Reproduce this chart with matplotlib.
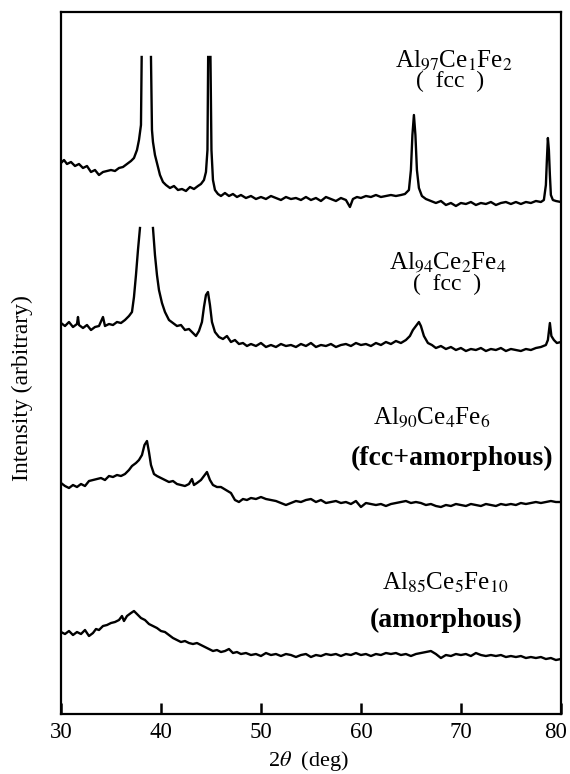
import numpy as np
import matplotlib.pyplot as plt
from matplotlib.transforms import ScaledTranslation

plt.rcParams['font.family'] = ['Liberation Serif', 'DejaVu Serif']
plt.rcParams['mathtext.fontset'] = 'stix'

nan = np.nan

# XRD patterns (2theta in deg, intensity in arbitrary units, already stacked)
# Al97Ce1Fe2 - main peaks run off the top of the chart (gap = nan)
al97 = [(30.0, 551), (30.3, 554), (30.6, 550), (31.0, 552), (31.4, 548), (31.8, 550),
        (32.2, 546), (32.6, 548), (33.0, 542), (33.4, 544), (33.8, 539), (34.2, 542),
        (34.6, 543), (35.0, 544), (35.4, 543), (35.8, 546), (36.2, 547), (36.6, 550),
        (37.0, 553), (37.3, 556), (37.6, 564), (37.8, 574), (38.0, 589), (38.07, 657),
        (38.5, nan), (39.0, 657), (39.1, 584), (39.2, 572), (39.4, 559), (39.6, 551),
        (39.9, 539), (40.2, 532), (40.5, 529), (40.9, 526), (41.3, 528), (41.7, 524),
        (42.1, 525), (42.5, 523), (42.9, 527), (43.3, 525), (43.7, 528), (44.0, 530),
        (44.3, 534), (44.5, 542), (44.65, 564), (44.72, 657), (44.85, nan), (44.95, 657),
        (45.05, 564), (45.2, 534), (45.4, 524), (45.7, 520), (46.0, 518), (46.4, 521),
        (46.8, 518), (47.2, 520), (47.6, 517), (48.0, 519), (48.5, 516), (49.0, 518),
        (49.5, 515), (50.0, 517), (50.5, 515), (51.0, 518), (51.5, 516), (52.0, 514),
        (52.5, 517), (53.0, 515), (53.5, 516), (54.0, 514), (54.5, 517), (55.0, 514),
        (55.5, 516), (56.0, 513), (56.5, 517), (57.0, 515), (57.5, 513), (58.0, 516),
        (58.5, 514), (58.9, 507), (59.2, 515), (59.6, 517), (60.0, 516), (60.5, 518),
        (61.0, 517), (61.5, 519), (62.0, 517), (62.5, 518), (63.0, 519), (63.5, 518),
        (64.0, 519), (64.4, 520), (64.8, 524), (65.0, 544), (65.15, 579), (65.3, 599),
        (65.45, 579), (65.6, 544), (65.8, 526), (66.1, 518), (66.5, 515), (67.0, 513),
        (67.5, 511), (68.0, 513), (68.5, 509), (69.0, 511), (69.5, 508), (70.0, 511),
        (70.5, 510), (71.0, 512), (71.5, 509), (72.0, 511), (72.5, 510), (73.0, 512),
        (73.5, 509), (74.0, 511), (74.5, 512), (75.0, 510), (75.5, 512), (76.0, 510),
        (76.5, 512), (77.0, 511), (77.5, 513), (78.0, 512), (78.3, 514), (78.5, 529),
        (78.6, 554), (78.7, 576), (78.8, 564), (78.9, 539), (79.0, 519), (79.2, 514),
        (79.5, 513), (80.0, 512)]

al94 = [(30.0, 391), (30.4, 388), (30.8, 392), (31.2, 387), (31.6, 390), (31.7, 397),
        (31.8, 389), (32.2, 386), (32.6, 389), (33.0, 384), (33.4, 387), (33.8, 388),
        (34.2, 397), (34.4, 388), (34.8, 390), (35.2, 389), (35.6, 392), (36.0, 391),
        (36.4, 394), (36.8, 398), (37.1, 402), (37.3, 417), (37.5, 439), (37.7, 464),
        (37.9, 486), (38.5, nan), (39.2, 486), (39.4, 459), (39.6, 439), (39.8, 424),
        (40.1, 411), (40.4, 402), (40.8, 394), (41.2, 391), (41.6, 388), (42.0, 389),
        (42.4, 384), (42.8, 385), (43.2, 381), (43.5, 378), (43.8, 383), (44.1, 392),
        (44.3, 407), (44.5, 419), (44.7, 422), (44.9, 409), (45.1, 392), (45.4, 382),
        (45.8, 377), (46.2, 375), (46.6, 378), (47.0, 372), (47.4, 374), (47.8, 370),
        (48.2, 371), (48.6, 368), (49.0, 370), (49.5, 368), (50.0, 371), (50.5, 367),
        (51.0, 369), (51.5, 367), (52.0, 370), (52.5, 368), (53.0, 369), (53.5, 367),
        (54.0, 370), (54.5, 368), (55.0, 371), (55.5, 367), (56.0, 369), (56.5, 368),
        (57.0, 370), (57.5, 367), (58.0, 369), (58.5, 370), (59.0, 368), (59.5, 371),
        (60.0, 369), (60.5, 370), (61.0, 368), (61.5, 371), (62.0, 369), (62.5, 372),
        (63.0, 370), (63.5, 373), (64.0, 371), (64.5, 374), (64.9, 378), (65.2, 384),
        (65.5, 388), (65.8, 392), (66.0, 388), (66.3, 378), (66.7, 371), (67.1, 369),
        (67.5, 366), (68.0, 368), (68.5, 365), (69.0, 367), (69.5, 364), (70.0, 366),
        (70.5, 363), (71.0, 365), (71.5, 364), (72.0, 366), (72.5, 363), (73.0, 365),
        (73.5, 364), (74.0, 366), (74.5, 363), (75.0, 365), (75.5, 364), (76.0, 363),
        (76.5, 365), (77.0, 364), (77.5, 366), (78.0, 367), (78.5, 369), (78.7, 374),
        (78.9, 391), (79.05, 378), (79.3, 374), (79.6, 371), (80.0, 372)]

al90 = [(30.0, 231), (30.4, 228), (30.8, 226), (31.2, 229), (31.6, 227), (32.0, 230),
        (32.4, 228), (32.8, 233), (33.2, 234), (33.6, 235), (34.0, 236), (34.4, 234),
        (34.8, 238), (35.2, 237), (35.6, 239), (36.0, 238), (36.4, 240), (36.8, 244),
        (37.1, 248), (37.5, 251), (37.8, 254), (38.1, 259), (38.35, 269), (38.6, 273),
        (38.8, 262), (39.0, 249), (39.3, 240), (39.6, 238), (40.0, 236), (40.4, 234),
        (40.8, 232), (41.2, 233), (41.6, 230), (42.0, 229), (42.4, 228), (42.8, 230),
        (43.1, 235), (43.3, 229), (43.6, 231), (44.0, 234), (44.3, 238), (44.6, 242),
        (44.9, 234), (45.2, 229), (45.6, 227), (46.0, 227), (46.5, 224), (47.0, 221),
        (47.4, 214), (47.8, 212), (48.2, 215), (48.6, 214), (49.0, 216), (49.5, 215),
        (50.0, 217), (50.5, 215), (51.0, 214), (51.5, 213), (52.0, 211), (52.5, 209),
        (53.0, 211), (53.5, 213), (54.0, 212), (54.5, 214), (55.0, 215), (55.5, 212),
        (56.0, 214), (56.5, 211), (57.0, 212), (57.5, 213), (58.0, 211), (58.5, 212),
        (59.0, 210), (59.5, 213), (60.0, 207), (60.5, 211), (61.0, 210), (61.5, 209),
        (62.0, 210), (62.5, 208), (63.0, 210), (63.5, 211), (64.0, 212), (64.5, 213),
        (65.0, 211), (65.5, 212), (66.0, 211), (66.5, 209), (67.0, 210), (67.5, 208),
        (68.0, 207), (68.5, 209), (69.0, 208), (69.5, 210), (70.0, 209), (70.5, 208),
        (71.0, 210), (71.5, 209), (72.0, 208), (72.5, 210), (73.0, 209), (73.5, 208),
        (74.0, 210), (74.5, 209), (75.0, 210), (75.5, 209), (76.0, 211), (76.5, 210),
        (77.0, 211), (77.5, 212), (78.0, 211), (78.5, 212), (79.0, 213), (79.5, 212),
        (80.0, 212)]

al85 = [(30.0, 82), (30.4, 80), (30.8, 83), (31.2, 79), (31.6, 82), (32.0, 80),
        (32.4, 84), (32.8, 78), (33.2, 81), (33.5, 85), (33.8, 84), (34.2, 88),
        (34.6, 89), (35.0, 91), (35.4, 92), (35.8, 94), (36.1, 98), (36.3, 93),
        (36.6, 98), (37.0, 101), (37.3, 103), (37.6, 100), (38.0, 96), (38.4, 94),
        (38.8, 90), (39.2, 88), (39.6, 86), (40.0, 83), (40.4, 82), (40.8, 79),
        (41.2, 76), (41.6, 74), (42.0, 72), (42.4, 73), (42.8, 71), (43.2, 70),
        (43.6, 71), (44.0, 69), (44.4, 67), (44.8, 65), (45.2, 63), (45.6, 64),
        (46.0, 62), (46.4, 63), (46.8, 65), (47.2, 61), (47.6, 62), (48.0, 60),
        (48.5, 61), (49.0, 59), (49.5, 60), (50.0, 58), (50.5, 61), (51.0, 59),
        (51.5, 60), (52.0, 58), (52.5, 60), (53.0, 59), (53.5, 57), (54.0, 59),
        (54.5, 60), (55.0, 57), (55.5, 59), (56.0, 58), (56.5, 60), (57.0, 59),
        (57.5, 60), (58.0, 58), (58.5, 60), (59.0, 59), (59.5, 61), (60.0, 59),
        (60.5, 60), (61.0, 58), (61.5, 60), (62.0, 59), (62.5, 61), (63.0, 60),
        (63.5, 61), (64.0, 59), (64.5, 60), (65.0, 58), (65.5, 60), (66.0, 61),
        (66.5, 62), (67.0, 63), (67.5, 60), (68.0, 56), (68.5, 59), (69.0, 58),
        (69.5, 60), (70.0, 59), (70.5, 60), (71.0, 58), (71.5, 61), (72.0, 59),
        (72.5, 58), (73.0, 59), (73.5, 58), (74.0, 59), (74.5, 57), (75.0, 58),
        (75.5, 57), (76.0, 58), (76.5, 56), (77.0, 57), (77.5, 56), (78.0, 57),
        (78.5, 55), (79.0, 56), (79.5, 54), (80.0, 55)]

patterns = [al97, al94, al90, al85]

fig = plt.figure(figsize=(5.7, 7.74), dpi=100)
ax = fig.add_axes([0.107, 0.0775, 0.877, 0.907])

for pat in patterns:
    x, y = zip(*pat)
    ax.plot(x, y, color='black', lw=1.7, solid_joinstyle='round')

ax.set_xlim(30, 80)
ax.set_ylim(0, 702)
ax.set_xticks([30, 40, 50, 60, 70, 80])
ax.set_yticks([])
ax.tick_params(axis='x', direction='in', length=8, width=1.8, labelsize=16.5, pad=6)
for s in ax.spines.values():
    s.set_linewidth(1.6)

# pull the last tick label in so it stays on the canvas
last = ax.get_xticklabels()[-1]
last.set_transform(last.get_transform() + ScaledTranslation(-5 / 100, 0, fig.dpi_scale_trans))

fs = 18
ax.text(69.3, 648, r'Al$_{97}$Ce$_{1}$Fe$_{2}$', fontsize=fs, ha='center', va='baseline')
ax.text(68.9, 633, '(  fcc  )', fontsize=fs - 1, ha='center', va='center')
ax.text(68.7, 446, r'Al$_{94}$Ce$_{2}$Fe$_{4}$', fontsize=fs, ha='center', va='baseline')
ax.text(68.6, 430, '(  fcc  )', fontsize=fs - 1, ha='center', va='center')
ax.text(67.1, 291, r'Al$_{90}$Ce$_{4}$Fe$_{6}$', fontsize=fs, ha='center', va='baseline')
ax.text(69.1, 256, '(fcc+amorphous)', fontsize=20, fontweight='bold', ha='center', va='center')
ax.text(68.4, 124, r'Al$_{85}$Ce$_{5}$Fe$_{10}$', fontsize=fs, ha='center', va='baseline')
ax.text(68.5, 94, '(amorphous)', fontsize=20, fontweight='bold', ha='center', va='center')

fig.text(22 / 570, 1 - 388 / 774, 'Intensity (arbitrary)', rotation=90,
         fontsize=17, ha='center', va='center')
fig.text(308 / 570, 1 - 761 / 774, r'2$\theta$  (deg)', fontsize=16, ha='center', va='center')

plt.savefig('out.png', dpi=100)
